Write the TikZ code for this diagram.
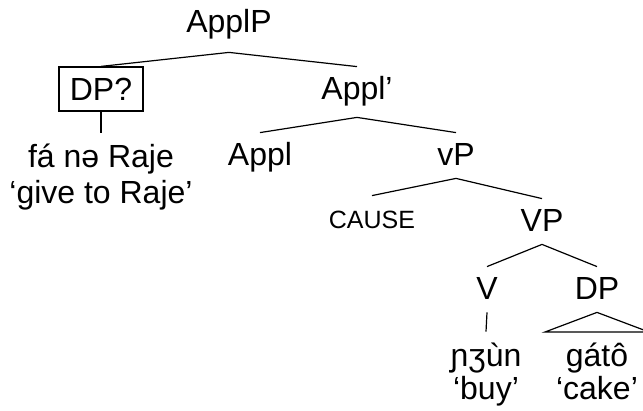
\documentclass[tikz,border=0pt]{standalone}
\usepackage{fontspec}
\setmainfont{Liberation Sans}
\begin{document}
\begin{tikzpicture}[x=0.5pt,y=-0.5pt,
  every node/.style={font=\fontsize{16}{19}\selectfont, inner xsep=0pt},
  cat/.style={anchor=base, text height=14pt, text depth=3.5pt, inner ysep=2.5pt},
  leaf/.style={anchor=base, text height=15pt, text depth=3.5pt, inner ysep=2.5pt},
  gloss/.style={anchor=base},
  boxed/.style={draw, line width=0.6pt, minimum width=42pt, minimum height=22pt,
    text height=11.5pt, text depth=0pt, inner sep=0pt},
  branch/.style={line width=0.6pt}]
\useasboundingbox (0,0) rectangle (643,411);

% category labels
\node[cat, text depth=7pt] (applp) at (229,33) {ApplP};
\node[boxed] (dpq) at (101,89) {DP?};
\node[cat, text depth=6pt] (applbar) at (357,100) {Appl’};
\node[cat] (appl) at (260,166) {Appl};
\node[cat] (vp) at (456,166) {vP};
\node[cat, font=\fontsize{12.5}{15}\selectfont] (cause) at (372,229) {CAUSE};
\node[cat] (bigvp) at (542,232) {VP};
\node[cat] (v) at (487,300) {V};
\node[cat] (dp) at (597,300) {DP};

% terminal words and glosses
\node[leaf] (w1) at (101,168) {fá nə Raje};
\node[gloss] (g1) at (101,204) {‘give to Raje’};
\node[leaf] (w2) at (486,367) {ɲʒùn};
\node[gloss] (g2) at (486,400) {‘buy’};
\node[leaf] (w3) at (597,367) {gátô};
\node[gloss] (g3) at (597,400) {‘cake’};

% branches
\draw[branch] (dpq.north) -- (applp.south) -- (applbar.north);
\draw[branch] (dpq.south) -- (w1.north);
\draw[branch] (appl.north) -- (applbar.south) -- (vp.north);
\draw[branch] (cause.north) -- (vp.south) -- (bigvp.north);
\draw[branch] (v.north) -- (bigvp.south) -- (dp.north);
\draw[branch] (v.south) -- (w2.north);

% roof over the DP
\coordinate (tl) at (545,332);
\coordinate (tr) at (649,332);
\draw[branch] (dp.south) -- (tl) -- (tr) -- cycle;
\end{tikzpicture}
\end{document}
